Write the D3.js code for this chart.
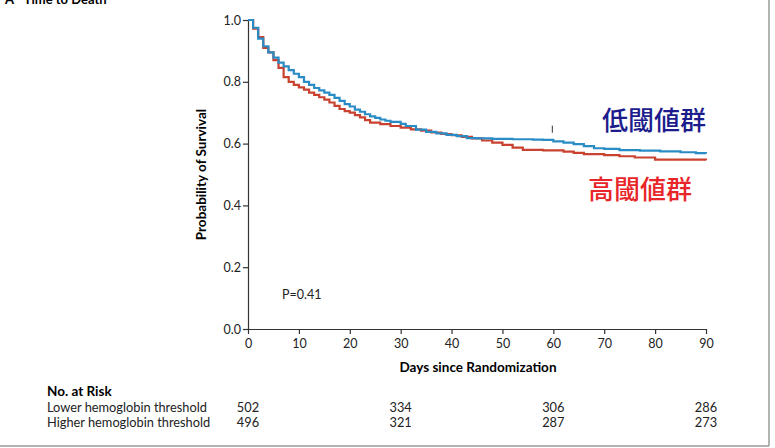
<!DOCTYPE html>
<html>
<head>
<meta charset="utf-8">
<script src="https://cdn.jsdelivr.net/npm/d3@7"></script>
<style>
  body { margin: 0; background: #fff; }
  svg { display: block; font-family: Lato, "Open Sans", sans-serif; }
</style>
</head>
<body>
<div id="chart"></div>
<script>
const W = 775, H = 448;

// survival curves (step after)
const lowerDays = [0,1,2,3,4,5,6,7,8,9,10,11,12,13,14,15,16,17,18,19,20,21,22,23,24,25,26,27,28,30,31,33,35,37,39,41,43,45,48,52,56,58,60,62,64,66,68,70,73,77,81,85,88,90];
const lowerSurv = [1.0,0.975,0.94,0.915,0.895,0.878,0.862,0.85,0.838,0.826,0.815,0.80,0.79,0.78,0.772,0.765,0.758,0.748,0.738,0.728,0.72,0.71,0.703,0.695,0.688,0.683,0.678,0.674,0.67,0.664,0.657,0.645,0.638,0.633,0.628,0.624,0.618,0.617,0.615,0.614,0.613,0.612,0.607,0.603,0.598,0.592,0.585,0.583,0.579,0.577,0.575,0.572,0.569,0.568];

const higherDays = [0,1,2,3,4,5,6,7,8,9,10,11,12,13,14,15,16,17,18,19,20,21,22,23,24,26,28,30,32,34,36,38,40,42,44,46,48,50,52,54,58,62,64,66,70,73,76,80,90];
const higherSurv = [1.0,0.972,0.945,0.91,0.895,0.87,0.845,0.815,0.80,0.79,0.782,0.775,0.765,0.758,0.75,0.742,0.733,0.722,0.712,0.705,0.70,0.692,0.685,0.676,0.668,0.663,0.657,0.652,0.646,0.642,0.636,0.631,0.627,0.622,0.617,0.61,0.603,0.596,0.587,0.58,0.578,0.574,0.57,0.566,0.563,0.559,0.555,0.548,0.546];

const xTicks = [0,10,20,30,40,50,60,70,80,90];
const yTicks = [0,0.2,0.4,0.6,0.8,1.0];

const riskDays = [0,30,60,90];
const riskLower = [502,334,306,286];
const riskHigher = [496,321,287,273];
const groupNames = ["Lower hemoglobin threshold","Higher hemoglobin threshold"];
const legendLabels = ["低閾値群","高閾値群"];

const blue = "#2a8cc5", red = "#c8422f";

const svg = d3.select("#chart").append("svg")
  .attr("width", W).attr("height", H);

// frame (right + bottom)
svg.append("line").attr("x1", 769).attr("x2", 769).attr("y1", 0).attr("y2", 446)
  .attr("stroke", "#9a9a9a").attr("stroke-width", 1.5);
svg.append("line").attr("x1", 0).attr("x2", 769).attr("y1", 446).attr("y2", 446)
  .attr("stroke", "#9a9a9a").attr("stroke-width", 1.5);

svg.append("text").attr("x", 5).attr("y", 4)
  .style("font-weight", "bold").style("font-size", "13px")
  .text("A\u2003Time to Death");

let x = d3.scaleLinear().domain([0, 90]).range([248, 706]);
let y = d3.scaleLinear().domain([0, 1]).range([329, 20]);

let xAxis = svg.append("g").attr("transform", `translate(0,${y(0)})`)
  .call(d3.axisBottom(x).tickValues(xTicks).tickSize(5).tickPadding(5).tickSizeOuter(0));
let yAxis = svg.append("g").attr("transform", `translate(${x(0)},0)`)
  .call(d3.axisLeft(y).tickValues(yTicks).tickFormat(d3.format(".1f")).tickSize(5).tickPadding(2).tickSizeOuter(0));

[xAxis, yAxis].forEach(function(g) {
  g.selectAll("path, line").attr("stroke", "#333").attr("stroke-width", 1.2);
  g.selectAll("text").style("font-family", "Lato, sans-serif").style("font-size", "12.5px").attr("fill", "#222");
});

svg.append("text")
  .attr("transform", `translate(206,${(y(0) + y(1)) / 2}) rotate(-90)`)
  .style("text-anchor", "middle").style("font-weight", "bold").style("font-size", "13.5px")
  .text("Probability of Survival");

svg.append("text")
  .attr("x", (x(0) + x(90)) / 2 + 1).attr("y", 372)
  .style("text-anchor", "middle").style("font-weight", "bold").style("font-size", "13.5px")
  .text("Days since Randomization");

let line = d3.line().curve(d3.curveStepAfter)
  .x(function(d) { return x(d[0]); })
  .y(function(d) { return y(d[1]); });

svg.append("path").datum(higherDays.map(function(d, i) { return [d, higherSurv[i]]; }))
  .attr("d", line).attr("fill", "none").attr("stroke", red).attr("stroke-width", 2.2);
svg.append("path").datum(lowerDays.map(function(d, i) { return [d, lowerSurv[i]]; }))
  .attr("d", line).attr("fill", "none").attr("stroke", blue).attr("stroke-width", 2.2);

// censor mark
svg.append("line").attr("x1", x(59.8)).attr("x2", x(59.8))
  .attr("y1", y(0.658)).attr("y2", y(0.635))
  .attr("stroke", "#333").attr("stroke-width", 1);

svg.append("text").attr("x", 282).attr("y", 299)
  .style("font-size", "12.5px").attr("fill", "#222")
  .text("P=0.41");

// legend labels
svg.append("text").attr("x", 706).attr("y", 130).style("text-anchor", "end")
  .style("font-family", "'Noto Sans CJK JP', sans-serif").style("font-size", "26px").style("font-weight", "500")
  .attr("fill", "#1c1c8c").text(legendLabels[0]);
svg.append("text").attr("x", 692).attr("y", 199).style("text-anchor", "end")
  .style("font-family", "'Noto Sans CJK JP', sans-serif").style("font-size", "26px").style("font-weight", "500")
  .attr("fill", "#e8262a").text(legendLabels[1]);

// risk table
svg.append("text").attr("x", 47).attr("y", 396)
  .style("font-weight", "bold").style("font-size", "13.5px").text("No. at Risk");

[riskLower, riskHigher].forEach(function(row, r) {
  let ry = 412 + r * 15;
  svg.append("text").attr("x", 47).attr("y", ry)
    .style("font-size", "12.8px").attr("fill", "#222").text(groupNames[r]);
  svg.selectAll(null).data(row).enter().append("text")
    .attr("x", function(d, i) { return x(riskDays[i]); })
    .attr("y", ry)
    .style("text-anchor", "middle").style("font-size", "12.8px").attr("fill", "#222")
    .text(function(d) { return d; });
});
</script>
</body>
</html>
